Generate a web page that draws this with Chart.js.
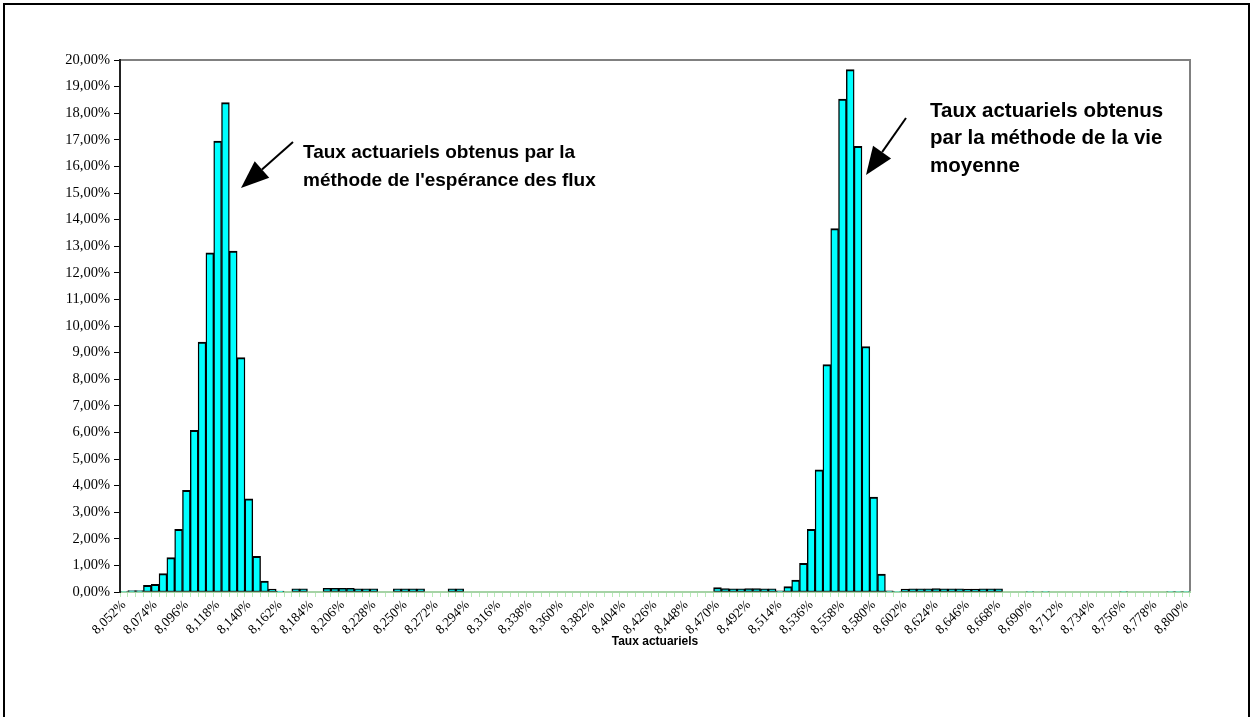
<!DOCTYPE html>
<html>
<head>
<meta charset="utf-8">
<script src="https://cdn.jsdelivr.net/npm/chart.js@4"></script>
<style>
  body { margin: 0; background: #fff; }
  canvas { display: block; }
</style>
</head>
<body>
<canvas id="chart" width="1253" height="717"></canvas>
<script>
// one label every 4 classes (class width 0,0055%)
const tickLabels = [
  '8,052%', '8,074%', '8,096%', '8,118%', '8,140%', '8,162%', '8,184%', '8,206%', '8,228%',
  '8,250%', '8,272%', '8,294%', '8,316%', '8,338%', '8,360%', '8,382%', '8,404%', '8,426%',
  '8,448%', '8,470%', '8,492%', '8,514%', '8,536%', '8,558%', '8,580%', '8,602%', '8,624%',
  '8,646%', '8,668%', '8,690%', '8,712%', '8,734%', '8,756%', '8,778%', '8,800%'
]

// frequency (%) per class, 137 classes
const frequencies = [
  0.02, 0.05, 0.05, 0.25, 0.29, 0.69, 1.29, 2.36, 3.82, 6.08,       // 0-9
  9.40, 12.75, 16.95, 18.40, 12.82, 8.81, 3.50, 1.34, 0.41, 0.11,  // 10-19
  0.03, 0, 0.12, 0.12, 0, 0, 0.14, 0.14, 0.14, 0.14,               // 20-29
  0.12, 0.12, 0.12, 0, 0, 0.12, 0.12, 0.12, 0.12, 0,               // 30-39
  0, 0, 0.12, 0.12, 0, 0, 0, 0, 0, 0,                              // 40-49
  0, 0, 0, 0, 0, 0, 0, 0, 0, 0,                                    // 50-59
  0, 0, 0, 0, 0, 0, 0, 0, 0, 0,                                    // 60-69
  0, 0, 0, 0, 0, 0, 0.17, 0.13, 0.12, 0.12,                        // 70-79
  0.13, 0.13, 0.12, 0.12, 0.04, 0.20, 0.45, 1.08, 2.36, 4.59,      // 80-89
  8.55, 13.66, 18.53, 19.64, 16.75, 9.23, 3.57, 0.67, 0.04, 0.02,  // 90-99
  0.11, 0.12, 0.12, 0.12, 0.13, 0.12, 0.12, 0.12, 0.11, 0.11,      // 100-109
  0.12, 0.12, 0.12, 0, 0, 0, 0.02, 0, 0.02, 0,                     // 110-119
  0, 0, 0, 0, 0, 0, 0, 0, 0.02, 0,                                 // 120-129
  0, 0, 0, 0, 0.02, 0.02, 0.02                                     // 130-136
]

const categories = frequencies.map((v, i) => (i % 4 === 0 ? tickLabels[i / 4] : ''))

const annotations = [
  { x: 303, y: 153, size: 19, lines: ['Taux actuariels obtenus par la', "méthode de l'espérance des flux"],
    arrow: [293, 142, 241, 188] },
  { x: 930, y: 111, size: 20.5, lines: ['Taux actuariels obtenus', 'par la méthode de la vie', 'moyenne'],
    arrow: [906, 118, 866, 175] },
]

const frame = {
  id: 'frame',
  beforeDraw(chart) {
    const { ctx, chartArea: a } = chart
    ctx.save()
    ctx.fillStyle = '#fff'
    ctx.fillRect(0, 0, chart.width, chart.height)
    ctx.strokeStyle = '#000'
    ctx.lineWidth = 2
    ctx.strokeRect(4, 4, 1245, 730)
    ctx.strokeStyle = '#808080'
    ctx.lineWidth = 2
    ctx.strokeRect(a.left, a.top, a.right - a.left, a.bottom - a.top)
    ctx.restore()
  },
  afterDraw(chart) {
    const ctx = chart.ctx
    ctx.save()
    ctx.fillStyle = '#000'
    ctx.strokeStyle = '#000'
    ctx.textBaseline = 'middle'
    annotations.forEach((a) => {
      ctx.font = `bold ${a.size}px "Liberation Sans", Arial, sans-serif`
      a.lines.forEach((t, i) => ctx.fillText(t, a.x, a.y + i * 27.5))
      const [x1, y1, x2, y2] = a.arrow
      const ang = Math.atan2(y2 - y1, x2 - x1)
      const len = 28, half = 11
      const bx = x2 - len * Math.cos(ang), by = y2 - len * Math.sin(ang)
      ctx.lineWidth = 2
      ctx.beginPath()
      ctx.moveTo(x1, y1)
      ctx.lineTo(bx, by)
      ctx.stroke()
      ctx.beginPath()
      ctx.moveTo(x2, y2)
      ctx.lineTo(bx + half * Math.sin(ang), by - half * Math.cos(ang))
      ctx.lineTo(bx - half * Math.sin(ang), by + half * Math.cos(ang))
      ctx.closePath()
      ctx.fill()
    })
    ctx.restore()
  },
}

new Chart(document.getElementById('chart').getContext('2d'), {
  type: 'bar',
  data: {
    labels: categories,
    datasets: [
      {
        data: frequencies,
        backgroundColor: '#00ffff',
        borderColor: '#000',
        borderWidth: { top: 2, left: 1.4, right: 1.4, bottom: 1 },
        borderSkipped: false,
        categoryPercentage: 1,
        barPercentage: 1,
      },
    ],
  },
  options: {
    responsive: false,
    animation: false,
    layout: { padding: { top: 60, right: 63, left: 0, bottom: 0 } },
    plugins: {
      legend: { display: false },
      tooltip: { enabled: false },
    },
    scales: {
      x: {
        grid: { offset: true, drawOnChartArea: false, color: '#b8ecb8', tickLength: 5 },
        border: { color: '#a6d3a6', width: 2 },
        ticks: {
          autoSkip: false,
          minRotation: 45,
          maxRotation: 45,
          padding: 0,
          color: '#000',
          font: { family: '"Liberation Serif", "Times New Roman", serif', size: 13.5 },
        },
        title: {
          display: true,
          text: 'Taux actuariels',
          color: '#000',
          font: { family: '"Liberation Sans", Arial, sans-serif', size: 12, weight: 'bold' },
          padding: { top: 4, bottom: 68 },
        },
        afterFit(scale) {
          scale.height = 125
        },
      },
      y: {
        min: 0,
        max: 20,
        grid: { drawOnChartArea: false, color: '#000', tickLength: 6 },
        border: { color: '#222', width: 2 },
        ticks: {
          stepSize: 1,
          padding: 4,
          color: '#000',
          font: { family: '"Liberation Serif", "Times New Roman", serif', size: 14.5 },
          callback: (v) => v.toFixed(2).replace('.', ',') + '%',
        },
        afterFit(scale) {
          scale.width = 120
        },
      },
    },
  },
  plugins: [frame],
})
</script>
</body>
</html>
